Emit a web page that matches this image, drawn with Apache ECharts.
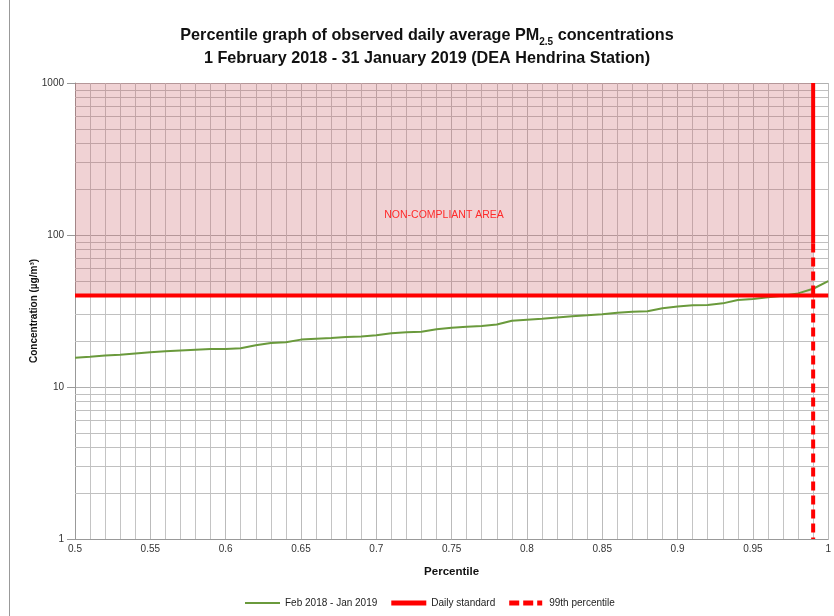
<!DOCTYPE html>
<html>
<head>
<meta charset="utf-8">
<script src="https://cdn.jsdelivr.net/npm/echarts@6/dist/echarts.min.js"></script>
<style>html,body{margin:0;padding:0;background:#fff}#c{width:834px;height:616px}</style>
</head>
<body>
<div id="c"></div>
<script>
// Data
const percentiles = [0.50,0.51,0.52,0.53,0.54,0.55,0.56,0.57,0.58,0.59,0.60,0.61,0.62,0.63,0.64,0.65,0.66,0.67,0.68,0.69,0.70,0.71,0.72,0.73,0.74,0.75,0.76,0.77,0.78,0.79,0.80,0.81,0.82,0.83,0.84,0.85,0.86,0.87,0.88,0.89,0.90,0.91,0.92,0.93,0.94,0.95,0.96,0.97,0.98,0.99,1.00];
const concentrations = [15.6,15.8,16.1,16.3,16.6,16.9,17.2,17.4,17.6,17.8,17.8,18.0,18.8,19.5,19.7,20.5,20.8,21.0,21.3,21.5,21.9,22.6,22.9,23.1,24.0,24.5,24.9,25.2,25.8,27.3,27.7,28.1,28.7,29.2,29.6,30.1,30.8,31.3,31.5,33.0,33.8,34.5,34.6,35.5,37.4,37.9,38.9,39.9,41.3,44.3,49.8];
const dailyStandard = 40;
const percentile99 = 0.99;
const dashStart = 88;   // the 99th-percentile line is solid above this value
const yMinorTicks = [2,3,4,5,6,7,8,9,20,30,40,50,60,70,80,90,200,300,400,500,600,700,800,900];
const seriesNames = ['Feb 2018 - Jan 2019','Daily standard','99th percentile'];

const chart = echarts.init(document.getElementById('c'));
const FONT = '"Liberation Sans", Arial, sans-serif';
const lineData = percentiles.map((p,i)=>[p, concentrations[i]]);

// legend icons (bbox 35x8 kept by degenerate sub-paths at the corners)
const BOX = 'M0,0L0.01,0M35,8L34.99,8';
const iconThin = 'path://' + BOX + 'M0,3h35v2h-35z';
const iconThick = 'path://' + BOX + 'M0,1.5h35v5h-35z';
const iconDash = 'path://' + BOX + 'M0,1.5h10v5h-10zM14,1.5h10v5h-10zM28,1.5h5v5h-5z';

chart.setOption({
  animation:false,
  backgroundColor:'#fff',
  textStyle:{fontFamily:FONT},
  title:{
    left:422, top:19, textAlign:'center',
    text:'{t|Percentile graph of observed daily average PM}{s|2.5}{t| concentrations}\n{t|1 February 2018 - 31 January 2019 (DEA Hendrina Station)}',
    textStyle:{
      fontFamily:FONT, fontWeight:'bold', fontSize:16.2, color:'#111', lineHeight:23,
      rich:{
        t:{fontFamily:FONT, fontWeight:'bold', fontSize:16.2, color:'#111', lineHeight:23},
        s:{fontFamily:FONT, fontWeight:'bold', fontSize:10, color:'#111', verticalAlign:'bottom', lineHeight:14, padding:[9,0,0,0]}
      }
    }
  },
  graphic:[{type:'line', shape:{x1:9.5,y1:0,x2:9.5,y2:616}, style:{stroke:'#999', lineWidth:1}, silent:true}],
  legend:{
    bottom:3, left:240, itemWidth:35, itemHeight:8, itemGap:14,
    data:[
      {name:seriesNames[0], icon:iconThin},
      {name:seriesNames[1], icon:iconThick},
      {name:seriesNames[2], icon:iconDash}
    ],
    textStyle:{fontFamily:FONT, fontSize:10, color:'#222'}
  },
  grid:{left:75, right:5, top:83, bottom:77, containLabel:false},
  xAxis:{
    type:'value', min:0.5, max:1, interval:0.05,
    name:'Percentile', nameLocation:'middle', nameGap:27,
    nameTextStyle:{fontFamily:FONT, fontWeight:'bold', fontSize:11.5, color:'#111'},
    axisLine:{show:true, lineStyle:{color:'#999'}},
    axisTick:{show:false},
    axisLabel:{fontFamily:FONT, fontSize:10, color:'#333', margin:5},
    splitLine:{show:true, lineStyle:{color:'#bbb', width:1}},
    minorTick:{show:false, splitNumber:5},
    minorSplitLine:{show:true, lineStyle:{color:'#c4c4c4', width:1}}
  },
  yAxis:{
    type:'log', logBase:10, min:1, max:1000,
    name:'Concentration (µg/m³)', nameLocation:'middle', nameGap:36, nameMoveOverlap:false,
    nameTextStyle:{fontFamily:FONT, fontWeight:'bold', fontSize:10, color:'#111'},
    axisLine:{show:true, lineStyle:{color:'#999'}},
    axisTick:{show:true, length:8, lineStyle:{color:'#999'}},
    axisLabel:{fontFamily:FONT, fontSize:10, color:'#333', margin:11, formatter:v=>String(v)},
    splitLine:{show:true, lineStyle:{color:'#b0b0b0', width:1}},
    minorTick:{show:false}, minorSplitLine:{show:false}
  },
  series:[
    {
      name:'minorGrid', type:'line', z:1, data:[[0.5,1]], symbol:'none', silent:true,
      lineStyle:{width:0},
      markLine:{z:1, silent:true, symbol:'none', animation:false, label:{show:false},
        lineStyle:{color:'#c0c0c0', width:1, type:'solid'},
        data:yMinorTicks.map(v=>({yAxis:v}))}
    },
    {
      name:'area', type:'line', z:2, data:[[0.5,1]], symbol:'none', silent:true,
      lineStyle:{width:0},
      markArea:{z:2, silent:true,
        itemStyle:{color:'rgba(195,75,83,0.25)'},
        label:{show:true, position:'inside', offset:[0,26], color:'#ff2a2a', fontFamily:FONT, fontSize:10.5},
        data:[[{name:'NON-COMPLIANT AREA', xAxis:0.5, yAxis:dailyStandard},{xAxis:percentile99, yAxis:1000}]]}
    },
    {
      name:seriesNames[0], type:'line', z:3, data:lineData, symbol:'none', showSymbol:false,
      itemStyle:{color:'#6a9a3c'},
      lineStyle:{color:'#6a9a3c', width:2}
    },
    {
      name:seriesNames[1], type:'line', z:4, data:[[0.5,dailyStandard],[1,dailyStandard]], symbol:'none',
      itemStyle:{color:'#ff0000'},
      lineStyle:{color:'#ff0000', width:4}
    },
    {
      name:seriesNames[2], type:'line', z:5, data:[[percentile99,dashStart],[percentile99,1]], symbol:'none',
      itemStyle:{color:'#ff0000'},
      lineStyle:{color:'#ff0000', width:4, type:[9,5]}
    },
    {
      name:'99top', type:'line', z:5, data:[[percentile99,1000],[percentile99,dashStart]], symbol:'none', silent:true,
      lineStyle:{color:'#ff0000', width:4}
    }
  ]
});
</script>
</body>
</html>
